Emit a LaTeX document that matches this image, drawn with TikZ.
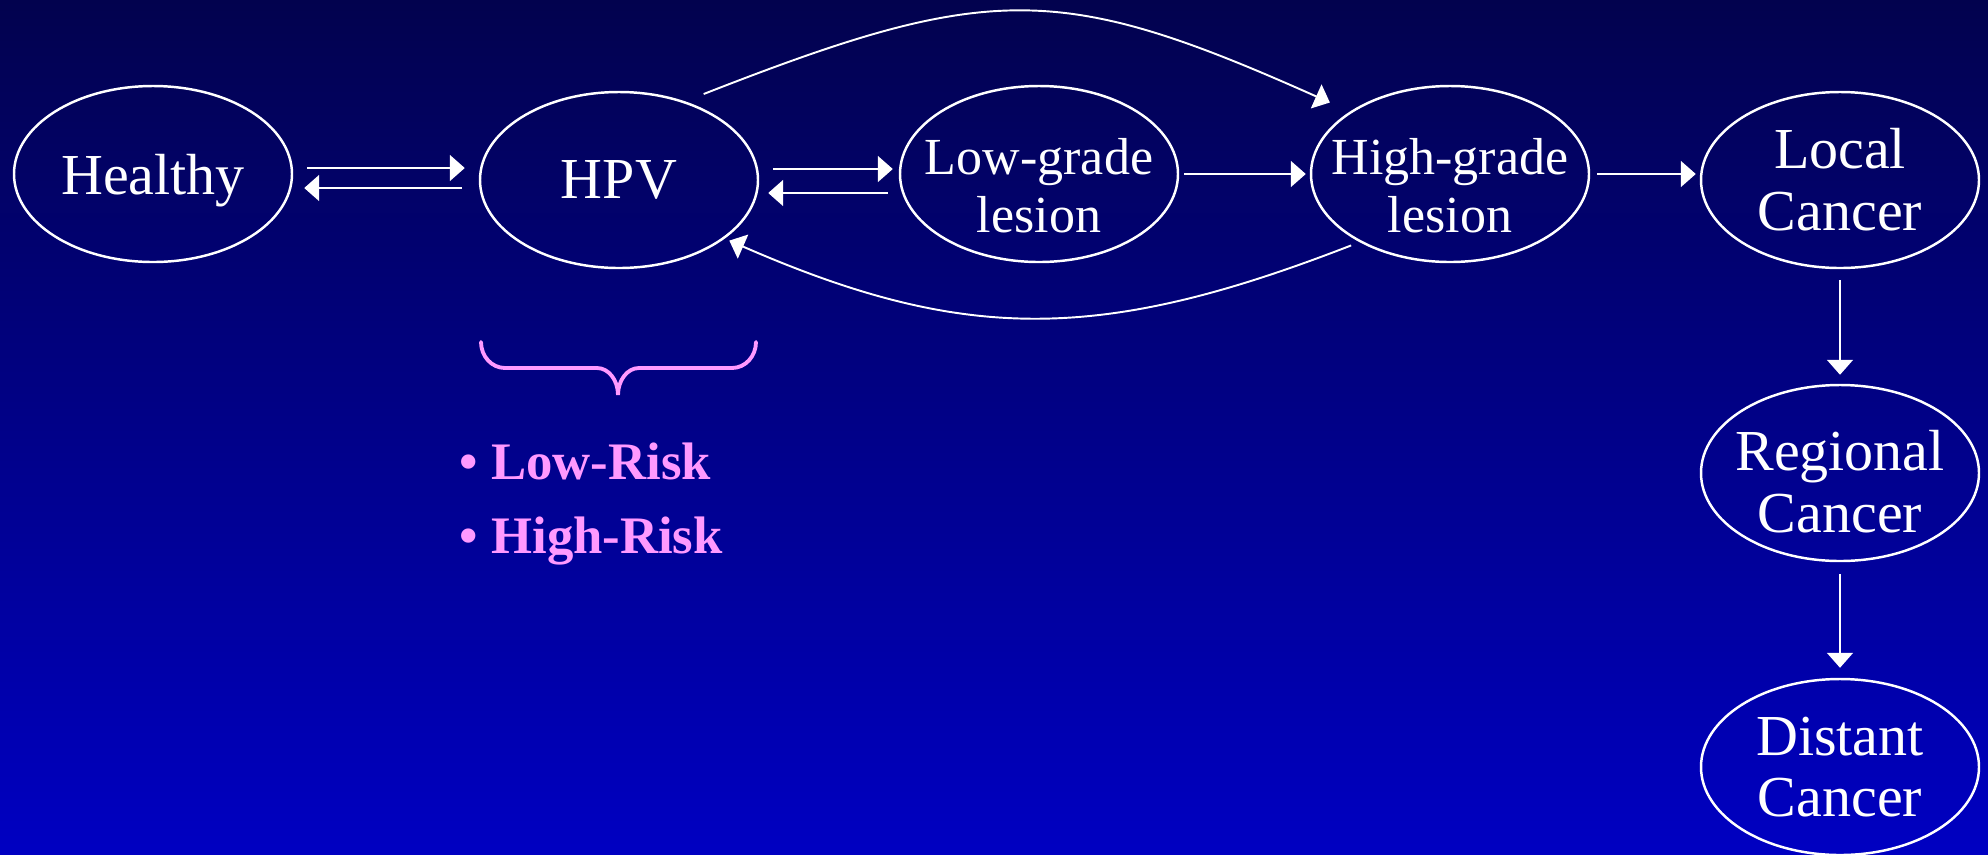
\documentclass[tikz,border=0pt]{standalone}
\usepackage{fontspec}
\setmainfont{Liberation Serif}
\usepackage{xcolor}
\usepackage{tikz}
\usetikzlibrary{arrows.meta,calc,shapes.geometric}
\definecolor{bgtop}{HTML}{02024E}
\definecolor{bgbot}{HTML}{0000C2}
\definecolor{pnk}{HTML}{FF99FF}

\begin{document}
\begin{tikzpicture}[every node/.style={text=white},
  st/.style={ellipse,draw=white,line width=0.7pt,minimum width=2.78cm,minimum height=1.76cm,
    inner xsep=-2cm,inner ysep=-1cm,align=center,font=\fontsize{16.5}{17.6}\selectfont},
  ls/.style={st,font=\fontsize{14.8}{16.5}\selectfont},
  e/.style={-{Triangle[length=0.15cm,width=0.26cm]},white,line width=0.55pt},
  brc/.style={draw=pnk,line width=1.1pt,line cap=round},
  lst/.style={text=pnk,align=left,inner sep=0pt,font=\fontsize{15}{21}\selectfont\bfseries}]
  \useasboundingbox (0,0) rectangle (19.88,-8.54);
  \shade[top color=bgtop,bottom color=bgbot] (0,0) rectangle (19.88,-8.54);
  % states
  \node[st,text depth=0pt] (hea) at (1.53,-1.74) {Healthy};
  \node[st] (hpv) at (6.19,-1.80) {HPV};
  \node[ls] (low) at (10.39,-1.74) {\rule{0pt}{0.59cm}Low-grade\\lesion};
  \node[ls] (hig) at (14.50,-1.74) {\rule{0pt}{0.59cm}High-grade\\lesion};
  \node[st] (loc) at (18.40,-1.80) {Local\\Cancer};
  \node[st] (reg) at (18.40,-4.73) {\rule{0pt}{0.58cm}Regional\\Cancer};
  \node[st] (dis) at (18.40,-7.67) {Distant\\Cancer};
  % transitions
  \draw[e,shorten <=0.14cm,shorten >=0.14cm] ([yshift=0.06cm]hea.east) -- ([yshift=0.12cm]hpv.west);
  \draw[e,shorten <=0.17cm,shorten >=0.11cm] ([yshift=-0.08cm]hpv.west) -- ([yshift=-0.14cm]hea.east);
  \draw[e,shorten <=0.14cm,shorten >=0.06cm] ([yshift=0.11cm]hpv.east) -- ([yshift=0.05cm]low.west);
  \draw[e,shorten <=0.11cm,shorten >=0.09cm] ([yshift=-0.19cm]low.west) -- ([yshift=-0.13cm]hpv.east);
  \draw[e,shorten <=0.05cm,shorten >=0.04cm] (low.east) -- (hig.west);
  \draw[e,shorten <=0.07cm,shorten >=0.04cm] (hig.east) -- (hig.east -| loc.west);
  \draw[e,shorten <=0.11cm,shorten >=0.09cm] (loc.south) -- (reg.north);
  \draw[e,shorten <=0.12cm,shorten >=0.10cm] (reg.south) -- (dis.north);
  \draw[e,shorten <=0.2cm,shorten >=0.22cm] (hpv.50) .. controls (9.9,0.18) and (10.6,0.18) .. (hig.148);
  \draw[e,shorten <=0.09cm,shorten >=0.05cm] (hig.217) .. controls (11.0,-3.43) and (9.64,-3.43) .. (hpv.-29);
  % HPV types
  \draw[brc] (4.81,-3.42) arc[start angle=180,end angle=270,x radius=0.24,y radius=0.26]
    -- (5.97,-3.68) arc[start angle=90,end angle=0,x radius=0.21,y radius=0.27]
    arc[start angle=180,end angle=90,x radius=0.21,y radius=0.27]
    -- (7.32,-3.68) arc[start angle=270,end angle=360,x radius=0.24,y radius=0.26];
  \node[lst,anchor=north west] (risk) at (4.59,-4.42) {• Low-Risk\\• High-Risk};
\end{tikzpicture}
\end{document}
